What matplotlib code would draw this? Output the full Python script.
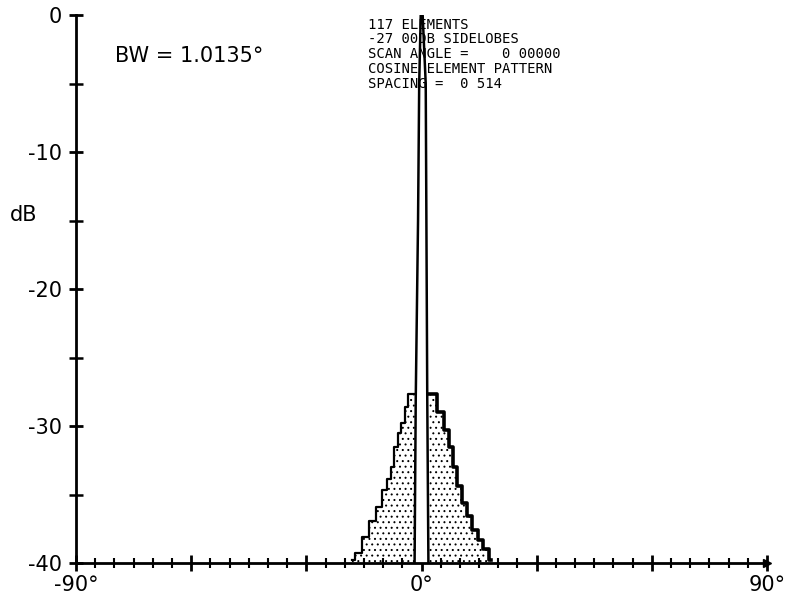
import matplotlib
matplotlib.use("Agg")
import matplotlib.pyplot as plt
from matplotlib.ticker import MultipleLocator, FixedLocator

# ---- data ----
left_env_deg = [-18.0, -16.9, -14.3, -12.8, -10.9, -9.6, -8.3, -7.6, -6.5, -6.0, -4.9, -3.9, -2.9, -1.8]
left_env_db = [-39.8, -39.3, -38.1, -36.9, -35.9, -34.7, -33.9, -33.0, -31.5, -30.5, -29.8, -28.6, -27.7, -27.7]
right_env_deg = [1.8, 2.9, 5.1, 6.4, 7.7, 8.6, 9.9, 11.2, 12.5, 13.8, 15.5, 16.8, 18.2]
right_env_db = [-27.7, -27.7, -29.0, -30.3, -31.5, -33.0, -34.4, -35.6, -36.6, -37.6, -38.3, -39.0, -39.8]

beam_deg = [-1.8, -1.5, -0.9, -0.6, -0.2, 0.3, 1.1, 1.5, 1.8]
beam_db = [-40, -28, -15, -5, 0, 0, -5, -28, -40]

xtick_major = [-90, -60, -30, 0, 30, 60, 90]
xtick_labels = ["-90°", "", "", "0°", "", "", "90°"]
ytick_major = [0, -10, -20, -30, -40]
ytick_labels = ["0", "-10", "-20", "-30", "-40"]

info_lines = ["117 ELEMENTS",
              "-27 00DB SIDELOBES",
              "SCAN ANGLE =    0 00000",
              "COSINE ELEMENT PATTERN",
              "SPACING =  0 514"]
bw_text = "BW = 1.0135°"

plt.rcParams["hatch.linewidth"] = 0.7

# ---- figure ----
W, H = 792, 602
fig = plt.figure(figsize=(W / 100, H / 100), dpi=100)
ax = fig.add_axes([76 / W, 39 / H, (767 - 76) / W, (563 - 15) / H])
ax.set_xlim(-90, 90)
ax.set_ylim(-40, 0)

# stippled sidelobe region
ax.fill_between(left_env_deg, left_env_db, -40, step="mid", facecolor="none",
                edgecolor="black", hatch="...", linewidth=0)
ax.fill_between(right_env_deg, right_env_db, -40, step="mid", facecolor="none",
                edgecolor="black", hatch="...", linewidth=0)
ax.fill_between([-1.8, 1.8], [-40, -40], 0, color="white", zorder=2)
ax.step(left_env_deg, left_env_db, where="mid", color="black", lw=1.6, zorder=3)
ax.step(right_env_deg, right_env_db, where="mid", color="black", lw=2.6, zorder=3)

# main beam
ax.plot(beam_deg, beam_db, color="black", lw=1.8, zorder=4)

# axes styling
for s in ["top", "right"]:
    ax.spines[s].set_visible(False)
for s in ["left", "bottom"]:
    ax.spines[s].set_linewidth(2)
    ax.spines[s].set_color("black")

ax.xaxis.set_major_locator(FixedLocator(xtick_major))
ax.set_xticklabels(xtick_labels, fontsize=15)
ax.xaxis.set_minor_locator(MultipleLocator(5))
ax.yaxis.set_major_locator(FixedLocator(ytick_major))
ax.set_yticklabels(ytick_labels, fontsize=15)
ax.yaxis.set_minor_locator(MultipleLocator(5))

ax.tick_params(axis="x", which="major", direction="inout", length=11, width=2, pad=3)
ax.tick_params(axis="x", which="minor", direction="inout", length=7, width=1.5)
ax.tick_params(axis="y", which="major", direction="inout", length=10, width=2, pad=5)
ax.tick_params(axis="y", which="minor", direction="inout", length=10, width=1.8)

# arrow at the x-axis end
ax.plot([90], [-40], marker=">", color="black", markersize=6, clip_on=False, zorder=5)

# texts
fig.text(24 / W, 1 - 215 / H, "dB", fontsize=15, ha="center", va="center")
fig.text(115 / W, 1 - 56 / H, bw_text, fontsize=15, ha="left", va="center")
for i, line in enumerate(info_lines):
    y = [25, 39, 54, 69, 84][i]
    fig.text(368 / W, 1 - y / H, line, fontsize=10, family="DejaVu Sans Mono",
             ha="left", va="center")

fig.savefig("out.png", dpi=100)
